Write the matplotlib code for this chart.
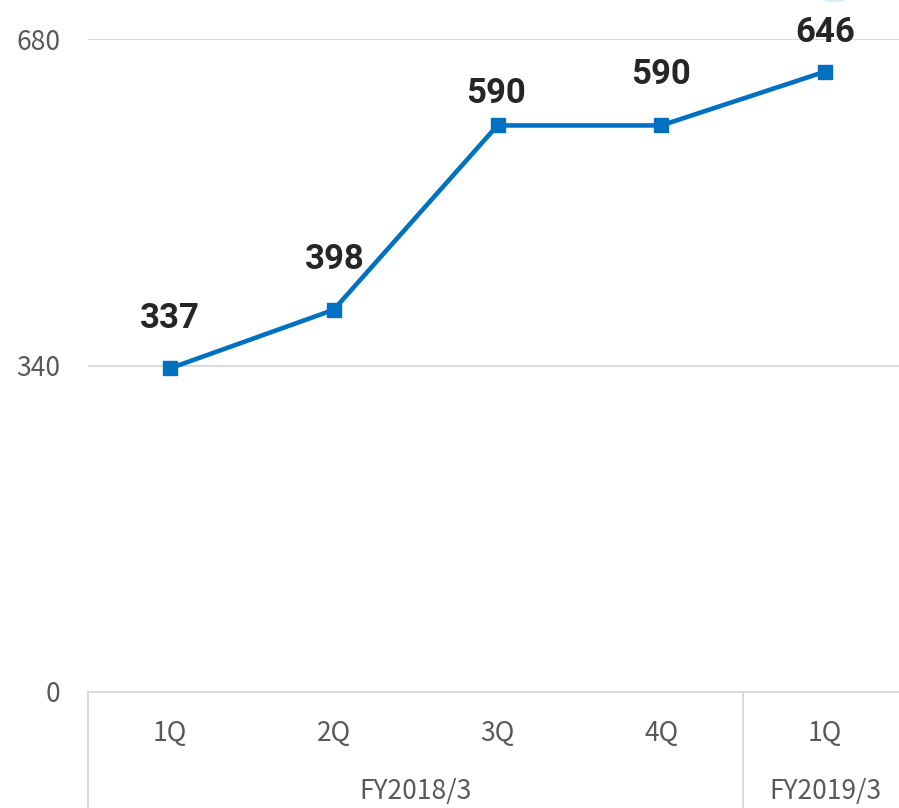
import matplotlib
matplotlib.use("Agg")
import matplotlib.pyplot as plt
from matplotlib.patches import Ellipse
import matplotlib.transforms as mtransforms

plt.rcParams['font.family'] = ['Noto Sans CJK JP', 'DejaVu Sans']

quarters = ["1Q", "2Q", "3Q", "4Q", "1Q"]
fiscal_years = ["FY2018/3", "FY2019/3"]
fy_spans = [(0, 3), (4, 4)]
values = [337, 398, 590, 590, 646]
yticks = [0, 340, 680]

# label offsets (style, in points)
label_offsets = [(0, -36), (1, -36), (-1, -23), (0, -37), (0, -28)]

W, H = 899, 808
fig = plt.figure(figsize=(W / 100, H / 100), dpi=100)
left, right = 88, 907
bottom, top = 692, 39
ax = fig.add_axes([left / W, (H - bottom) / H, (right - left) / W, (bottom - top) / H])

x = list(range(len(values)))
ax.plot(x, values, color='#0070C0', linewidth=3.3, marker='s', markersize=10,
        markerfacecolor='#0070C0', markeredgecolor='#0070C0', clip_on=False, zorder=3)

for xi, v, (dx, dy) in zip(x, values, label_offsets):
    ax.annotate(f"{v}", (xi, v), xytext=(dx, -dy), textcoords='offset points',
                ha='center', va='center', fontsize=25, fontweight='bold',
                color='#262626', family=['Roboto', 'DejaVu Sans'],
                annotation_clip=False, zorder=4)

ax.set_xlim(-0.5, len(values) - 0.5)
ax.set_ylim(0, 680)
ax.set_yticks(yticks)
ax.set_yticklabels([str(t) for t in yticks])
ax.tick_params(axis='y', length=0, pad=20, labelsize=19, labelcolor='#595959')
ax.set_xticks([])
ax.grid(axis='y', color='#d9d9d9', linewidth=1.4)
ax.set_axisbelow(True)
for s in ['top', 'right', 'left']:
    ax.spines[s].set_visible(False)
ax.spines['bottom'].set_color('#d9d9d9')
ax.spines['bottom'].set_linewidth(1.4)

trans = mtransforms.blended_transform_factory(ax.transData, fig.transFigure)
# category labels
for xi, q in zip(x, quarters):
    ax.text(xi, (H - 733) / H, q, transform=trans, ha='center', va='center',
            fontsize=19, color='#595959')
# fiscal year labels & separators
bounds = set()
for fy, (a, b) in zip(fiscal_years, fy_spans):
    ax.text((a + b) / 2, (H - 792) / H, fy, transform=trans, ha='center', va='center',
            fontsize=19, color='#595959')
    bounds.add(a - 0.5)
    bounds.add(b + 0.5)
for bx in sorted(bounds):
    ax.plot([bx, bx], [(H - bottom) / H, -0.05], transform=trans, color='#d9d9d9',
            linewidth=1.4, clip_on=False)

# faint decorative shape at top edge
fig.patches.append(Ellipse((834 / W, (H + 8) / H), 40 / W, 20 / H,
                           transform=fig.transFigure, facecolor='#d6eaf8',
                           edgecolor='none'))

fig.savefig("out.png", dpi=100)
